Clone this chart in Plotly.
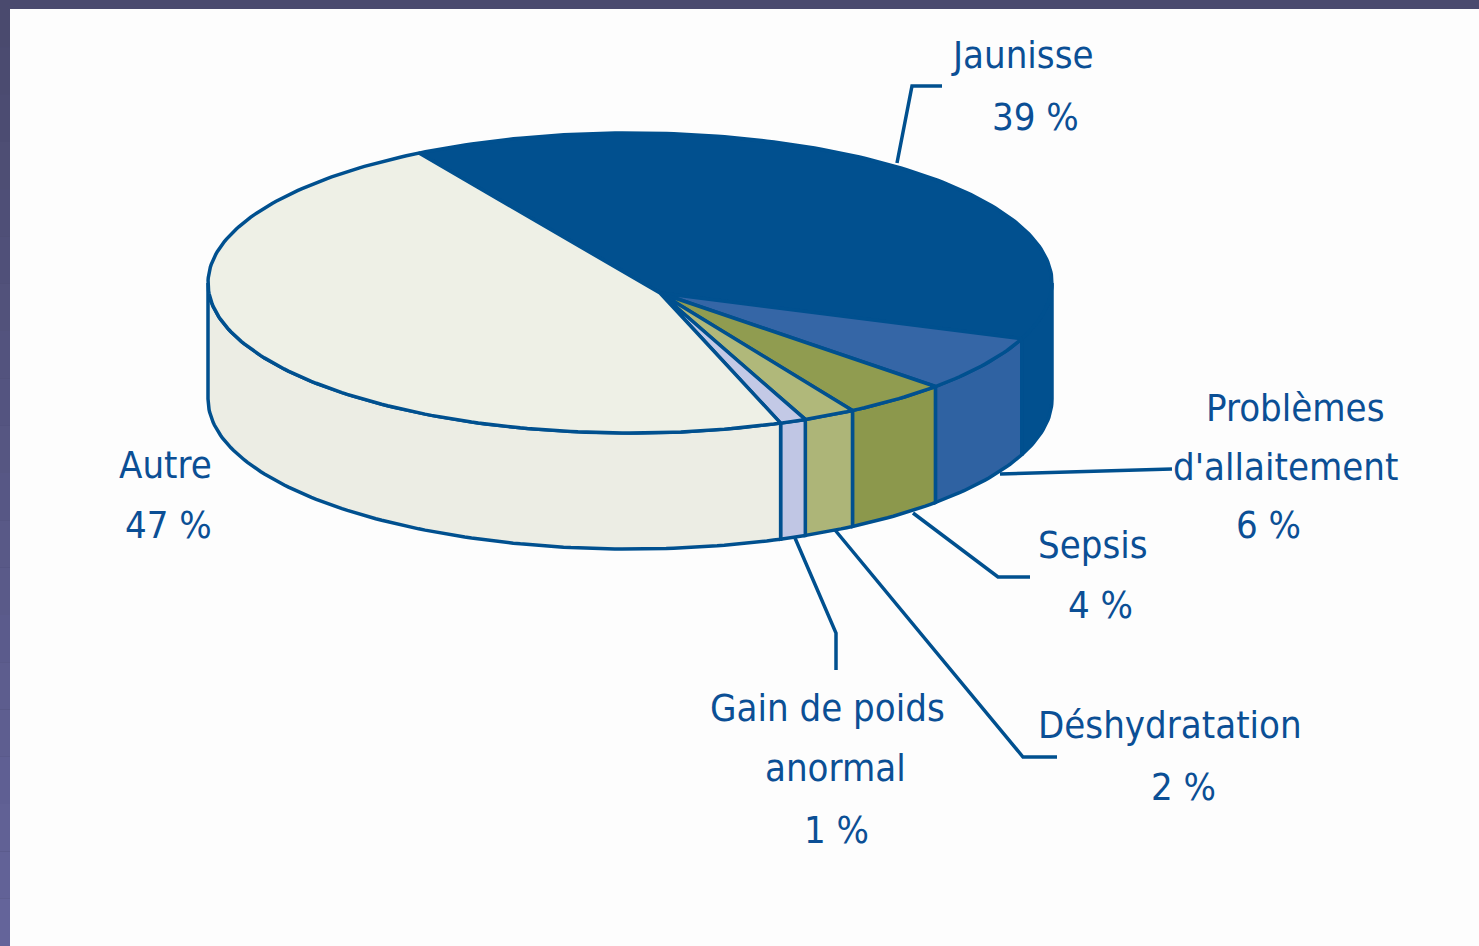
import math
import plotly.graph_objects as go

# ---- data ----
labels = ["Jaunisse", "Problèmes d'allaitement", "Sepsis", "Déshydratation",
          "Gain de poids anormal", "Autre"]
values = [39, 6, 4, 2, 1, 47]
label_lines = [["Jaunisse", "39 %"],
               ["Problèmes", "d'allaitement", "6 %"],
               ["Sepsis", "4 %"],
               ["Déshydratation", "2 %"],
               ["Gain de poids", "anormal", "1 %"],
               ["Autre", "47 %"]]

# ---- style ----
top_colors = ["#01508f", "#3566a6", "#909c50", "#b0b87a", "#c3c9e6", "#eef0e6"]
wall_colors = ["#01508f", "#2f62a2", "#8c984c", "#adb578", "#c0c6e4", "#ecede4"]
OUTLINE = "#00508f"
TEXT = "#0b4f95"
FONT = "Liberation Sans Narrow, Arial Narrow, DejaVu Sans Condensed, sans-serif"
FONT_SIZE = 38

W, H = 1479, 946
cx, cy, a, b, depth = 630, 283, 422, 150, 116
apex = (660, 293)
start_angle = 120.0

total = float(sum(values))


def arc(t0, t1, dy=0.0, n=None):
    if n is None:
        n = max(2, int(abs(t1 - t0) / 1.0) + 2)
    pts = []
    for i in range(n):
        t = math.radians(t0 + (t1 - t0) * i / (n - 1))
        pts.append((cx + a * math.cos(t), cy - b * math.sin(t) + dy))
    return pts


fig = go.Figure()

angles = []
cum = 0.0
for v in values:
    t0 = start_angle - cum / total * 360.0
    t1 = start_angle - (cum + v) / total * 360.0
    angles.append((t0, t1))
    cum += v

# walls (front, visible half: angles between -180 and 0)
for i, (t0, t1) in enumerate(angles):
    hi = min(t0, 0.0)
    lo = max(t1, -180.0)
    if hi <= lo:
        continue
    top = arc(hi, lo)
    bot = arc(lo, hi, dy=depth)
    pts = top + bot + [top[0]]
    fig.add_trace(go.Scatter(
        x=[p[0] for p in pts], y=[p[1] for p in pts], mode="lines",
        fill="toself", fillcolor=wall_colors[i],
        line=dict(color=OUTLINE, width=3.5), hoverinfo="text",
        text=f"{labels[i]}: {values[i]} %", showlegend=False))

# top faces
for i, (t0, t1) in enumerate(angles):
    pts = [apex] + arc(t0, t1) + [apex]
    fig.add_trace(go.Scatter(
        x=[p[0] for p in pts], y=[p[1] for p in pts], mode="lines",
        fill="toself", fillcolor=top_colors[i],
        line=dict(color=OUTLINE, width=3.5), hoverinfo="text",
        text=f"{labels[i]}: {values[i]} %", showlegend=False))

# labels (one annotation per text line)
line_pos = [[(1022, 55), (1035, 117)],
            [(1295, 408), (1285, 467), (1268, 525)],
            [(1093, 545), (1100, 605)],
            [(1170, 725), (1183, 787)],
            [(827, 708), (835, 768), (836, 830)],
            [(165, 465), (168, 525)]]
for lines, poss in zip(label_lines, line_pos):
    for txt, (x, y) in zip(lines, poss):
        fig.add_annotation(x=x, y=y, text=txt, showarrow=False, xanchor="center",
                           yanchor="middle", align="center",
                           font=dict(family=FONT, size=FONT_SIZE, color=TEXT))

# leader lines
leaders = [
    [(897, 163), (912, 86), (942, 86)],
    [(1000, 474), (1172, 469)],
    [(913, 513), (998, 577), (1030, 577)],
    [(835, 530), (1023, 757), (1057, 757)],
    [(795, 538), (836, 633), (836, 670)],
]
for pts in leaders:
    path = "M " + " L ".join(f"{x},{y}" for x, y in pts)
    fig.add_shape(type="path", path=path, xref="x", yref="y",
                  line=dict(color=OUTLINE, width=3.5))

# frame: white panel over purple background, left strip gradient
n_strip = 20
for k in range(n_strip):
    f = k / (n_strip - 1)
    r = int(0x4a + (0x64 - 0x4a) * f)
    g = int(0x4a + (0x64 - 0x4a) * f)
    bb = int(0x6e + (0x9a - 0x6e) * f)
    fig.add_shape(type="rect", xref="paper", yref="paper",
                  x0=0, x1=1, y0=1 - (k + 1) / n_strip, y1=1 - k / n_strip,
                  fillcolor=f"rgb({r},{g},{bb})", line=dict(width=0), layer="below")
fig.add_shape(type="rect", xref="x", yref="y", x0=10, x1=W, y0=9, y1=H,
              fillcolor="#fdfdfd", line=dict(width=0), layer="below")

fig.update_layout(
    width=W, height=H,
    margin=dict(l=0, r=0, t=0, b=0),
    paper_bgcolor="#4b4b70",
    plot_bgcolor="rgba(0,0,0,0)",
    xaxis=dict(range=[0, W], visible=False, fixedrange=True),
    yaxis=dict(range=[H, 0], visible=False, fixedrange=True),
    showlegend=False,
)

fig.write_html("out.html", config={"displayModeBar": False},
               post_script="document.body.style.margin='0';")
